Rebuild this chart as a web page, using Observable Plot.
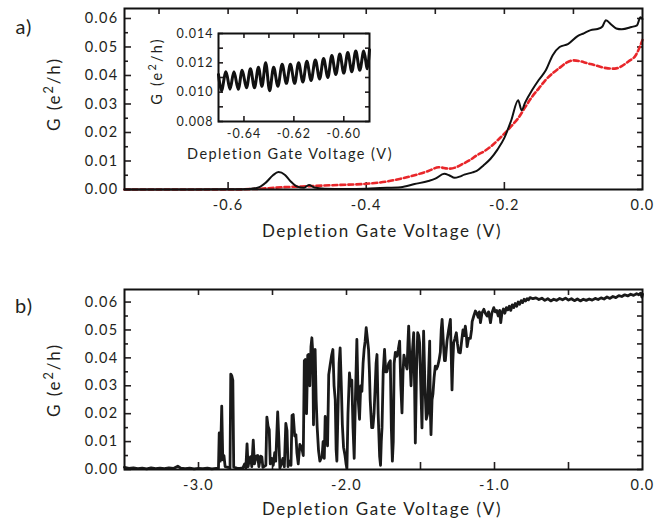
<!DOCTYPE html>
<html><head><meta charset="utf-8">
<script src="https://cdn.jsdelivr.net/npm/d3@7"></script>
<script src="https://cdn.jsdelivr.net/npm/@observablehq/plot@0.6"></script>
<style>
body{margin:0;background:#fff;}
#c{position:relative;width:667px;height:524px;font-family:Lato,"Open Sans",sans-serif;color:#231f20;overflow:hidden;}
#c > svg, #c > .lbl{position:absolute;}
.lbl{white-space:nowrap;transform:translate(-50%,-50%);line-height:1;}
.rot{transform:translate(-50%,-50%) rotate(-90deg);}
sup{font-size:0.75em;vertical-align:0.55em;line-height:0;}
</style></head><body><div id="c"></div>
<script>
// ---------- Panel a: main curves ----------
const aBlackV = [-0.75,-0.70,-0.65,-0.60,-0.57,-0.555,-0.545,-0.535,-0.527,-0.518,-0.51,-0.50,-0.49,-0.483,-0.475,-0.46,-0.43,-0.40,-0.38,-0.35,-0.33,-0.31,-0.30,-0.287,-0.28,-0.272,-0.265,-0.258,-0.246,-0.24,-0.23,-0.22,-0.21,-0.20,-0.19,-0.18,-0.175,-0.17,-0.16,-0.15,-0.14,-0.13,-0.12,-0.108,-0.094,-0.085,-0.075,-0.065,-0.058,-0.053,-0.045,-0.038,-0.03,-0.016,-0.008,-0.003,0.0];
const aBlackG = [0.0000,0.0000,0.0000,0.0001,0.0002,0.0008,0.0025,0.0050,0.0061,0.0052,0.0030,0.0010,0.0006,0.0016,0.0007,0.0003,0.0002,0.0003,0.0005,0.0008,0.0019,0.0030,0.0038,0.0055,0.0050,0.0041,0.0045,0.0052,0.0060,0.0065,0.0085,0.0108,0.0140,0.0181,0.0243,0.0313,0.0278,0.0305,0.0348,0.0385,0.0418,0.0471,0.0500,0.0510,0.0538,0.0548,0.0559,0.0563,0.0572,0.0594,0.0578,0.0565,0.0562,0.0570,0.0576,0.0604,0.0598];
const aRedV = [-0.75,-0.65,-0.60,-0.56,-0.52,-0.48,-0.44,-0.40,-0.37,-0.35,-0.33,-0.31,-0.295,-0.28,-0.27,-0.26,-0.25,-0.24,-0.23,-0.22,-0.21,-0.20,-0.19,-0.18,-0.17,-0.16,-0.15,-0.14,-0.13,-0.12,-0.11,-0.10,-0.09,-0.08,-0.07,-0.06,-0.05,-0.04,-0.03,-0.02,-0.01,0.0];
const aRedG = [0.0000,0.0000,0.0000,0.0002,0.0008,0.0012,0.0016,0.0020,0.0028,0.0038,0.0050,0.0065,0.0078,0.0073,0.0078,0.0090,0.0103,0.0120,0.0133,0.0150,0.0172,0.0196,0.0222,0.0250,0.0288,0.0325,0.0355,0.0385,0.0408,0.0427,0.0445,0.0453,0.0450,0.0443,0.0437,0.0430,0.0425,0.0424,0.0433,0.0450,0.0470,0.0525];
const aXLabels = [-0.6,-0.4,-0.2,0.0];
const aXTop = [-0.7,-0.6,-0.5,-0.4,-0.3,-0.2,-0.1];
const aXBottom = [-0.6,-0.4,-0.2];
const gLabels = [0,0.01,0.02,0.03,0.04,0.05,0.06];
const gMinor = [0.005,0.015,0.025,0.035,0.045,0.055];

// ---------- Inset ----------
const insV = [-0.6502,-0.6490,-0.6472,-0.6456,-0.6440,-0.6423,-0.6407,-0.6390,-0.6374,-0.6358,-0.6342,-0.6328,-0.6313,-0.6297,-0.6281,-0.6264,-0.6247,-0.6230,-0.6214,-0.6197,-0.6181,-0.6164,-0.6148,-0.6131,-0.6114,-0.6097,-0.6081,-0.6064,-0.6048,-0.6032,-0.6016,-0.6000,-0.5984,-0.5968,-0.5952,-0.5936,-0.5920,-0.5906,-0.5897];
const insG = [0.0112,0.0101,0.0114,0.0102,0.0114,0.0102,0.0115,0.0103,0.0116,0.0103,0.0117,0.0104,0.0120,0.0101,0.0117,0.0104,0.0119,0.0106,0.0119,0.0106,0.0120,0.0107,0.0121,0.0108,0.0122,0.0109,0.0123,0.0110,0.0125,0.0112,0.0126,0.0113,0.0127,0.0114,0.0128,0.0115,0.0128,0.0116,0.0129];
const insXLabels = [-0.64,-0.62,-0.60];
const insXTop = [-0.64,-0.63,-0.62,-0.61,-0.60];
const insYLabels = [0.008,0.010,0.012,0.014];
const insYMinor = [0.009,0.011,0.013];

// ---------- Panel b ----------
const bV = [-3.500,-3.470,-3.440,-3.410,-3.380,-3.350,-3.320,-3.290,-3.260,-3.230,-3.200,-3.170,-3.140,-3.120,-3.090,-3.060,-3.030,-3.000,-2.970,-2.940,-2.910,-2.880,-2.865,-2.860,-2.852,-2.843,-2.836,-2.828,-2.820,-2.800,-2.787,-2.782,-2.775,-2.768,-2.762,-2.740,-2.720,-2.700,-2.688,-2.680,-2.672,-2.665,-2.655,-2.648,-2.640,-2.630,-2.622,-2.610,-2.600,-2.592,-2.580,-2.572,-2.565,-2.545,-2.538,-2.530,-2.522,-2.515,-2.505,-2.495,-2.485,-2.478,-2.465,-2.458,-2.450,-2.440,-2.430,-2.420,-2.410,-2.402,-2.395,-2.385,-2.375,-2.368,-2.360,-2.350,-2.342,-2.335,-2.326,-2.315,-2.303,-2.292,-2.285,-2.278,-2.270,-2.262,-2.256,-2.248,-2.240,-2.234,-2.228,-2.223,-2.217,-2.212,-2.205,-2.198,-2.189,-2.180,-2.172,-2.165,-2.158,-2.150,-2.144,-2.136,-2.128,-2.120,-2.110,-2.100,-2.092,-2.084,-2.076,-2.070,-2.065,-2.058,-2.050,-2.043,-2.035,-2.028,-2.020,-2.010,-2.003,-1.997,-1.990,-1.980,-1.972,-1.964,-1.956,-1.948,-1.940,-1.930,-1.921,-1.912,-1.904,-1.896,-1.888,-1.881,-1.874,-1.867,-1.859,-1.851,-1.845,-1.840,-1.830,-1.822,-1.814,-1.806,-1.800,-1.794,-1.786,-1.776,-1.770,-1.765,-1.760,-1.752,-1.743,-1.735,-1.727,-1.715,-1.704,-1.697,-1.690,-1.684,-1.678,-1.670,-1.659,-1.650,-1.641,-1.633,-1.625,-1.618,-1.612,-1.600,-1.591,-1.585,-1.580,-1.572,-1.564,-1.555,-1.546,-1.540,-1.535,-1.527,-1.519,-1.512,-1.506,-1.498,-1.490,-1.484,-1.479,-1.470,-1.461,-1.452,-1.445,-1.438,-1.433,-1.429,-1.422,-1.416,-1.408,-1.400,-1.392,-1.384,-1.375,-1.366,-1.360,-1.354,-1.345,-1.338,-1.332,-1.321,-1.310,-1.298,-1.292,-1.287,-1.282,-1.276,-1.267,-1.258,-1.250,-1.242,-1.231,-1.222,-1.213,-1.205,-1.197,-1.190,-1.185,-1.175,-1.163,-1.155,-1.151,-1.140,-1.129,-1.120,-1.110,-1.102,-1.095,-1.085,-1.072,-1.062,-1.050,-1.040,-1.027,-1.018,-1.005,-0.995,-0.985,-0.975,-0.965,-0.958,-0.950,-0.940,-0.930,-0.920,-0.910,-0.900,-0.890,-0.880,-0.870,-0.860,-0.850,-0.840,-0.830,-0.820,-0.810,-0.800,-0.790,-0.780,-0.770,-0.760,-0.740,-0.720,-0.700,-0.680,-0.660,-0.640,-0.620,-0.600,-0.580,-0.560,-0.540,-0.520,-0.500,-0.480,-0.460,-0.440,-0.420,-0.400,-0.380,-0.360,-0.340,-0.320,-0.300,-0.280,-0.260,-0.240,-0.220,-0.200,-0.180,-0.160,-0.140,-0.120,-0.100,-0.080,-0.060,-0.040,-0.025,-0.012,-0.004,0.000];
const bG = [0.0008,0.0004,0.0006,0.0003,0.0005,0.0002,0.0006,0.0003,0.0005,0.0003,0.0006,0.0004,0.0012,0.0005,0.0003,0.0005,0.0002,0.0004,0.0003,0.0005,0.0002,0.0004,0.0005,0.0131,0.0030,0.0227,0.0035,0.0050,0.0010,0.0008,0.0006,0.0342,0.0336,0.0320,0.0008,0.0005,0.0004,0.0006,0.0020,0.0005,0.0092,0.0010,0.0040,0.0046,0.0010,0.0105,0.0020,0.0048,0.0050,0.0010,0.0048,0.0045,0.0008,0.0015,0.0188,0.0155,0.0143,0.0020,0.0040,0.0015,0.0060,0.0030,0.0206,0.0120,0.0005,0.0020,0.0040,0.0010,0.0165,0.0140,0.0010,0.0030,0.0015,0.0194,0.0197,0.0120,0.0125,0.0060,0.0020,0.0090,0.0080,0.0050,0.0390,0.0394,0.0200,0.0410,0.0412,0.0300,0.0440,0.0472,0.0420,0.0160,0.0425,0.0430,0.0250,0.0150,0.0068,0.0030,0.0040,0.0045,0.0100,0.0040,0.0190,0.0120,0.0085,0.0340,0.0376,0.0410,0.0430,0.0300,0.0250,0.0070,0.0030,0.0200,0.0380,0.0436,0.0300,0.0160,0.0080,0.0050,0.0020,0.0005,0.0200,0.0346,0.0300,0.0320,0.0150,0.0040,0.0250,0.0466,0.0250,0.0180,0.0300,0.0280,0.0380,0.0430,0.0460,0.0508,0.0470,0.0430,0.0350,0.0250,0.0150,0.0150,0.0200,0.0300,0.0380,0.0412,0.0200,0.0046,0.0015,0.0100,0.0150,0.0350,0.0430,0.0350,0.0350,0.0380,0.0390,0.0150,0.0030,0.0100,0.0380,0.0420,0.0406,0.0430,0.0460,0.0300,0.0203,0.0350,0.0410,0.0380,0.0360,0.0450,0.0514,0.0400,0.0300,0.0420,0.0490,0.0300,0.0095,0.0350,0.0490,0.0480,0.0454,0.0300,0.0149,0.0350,0.0496,0.0300,0.0180,0.0200,0.0350,0.0460,0.0200,0.0125,0.0250,0.0270,0.0330,0.0370,0.0360,0.0370,0.0390,0.0420,0.0500,0.0538,0.0450,0.0390,0.0390,0.0460,0.0500,0.0538,0.0400,0.0285,0.0380,0.0454,0.0470,0.0490,0.0450,0.0420,0.0418,0.0460,0.0500,0.0480,0.0514,0.0480,0.0440,0.0470,0.0470,0.0500,0.0530,0.0550,0.0568,0.0560,0.0545,0.0565,0.0526,0.0560,0.0574,0.0560,0.0550,0.0565,0.0526,0.0560,0.0580,0.0565,0.0570,0.0550,0.0570,0.0526,0.0560,0.0575,0.0560,0.0580,0.0572,0.0585,0.0570,0.0590,0.0580,0.0595,0.0585,0.0600,0.0592,0.0605,0.0598,0.0610,0.0604,0.0612,0.0608,0.0616,0.0612,0.0615,0.0609,0.0614,0.0606,0.0612,0.0604,0.0610,0.0606,0.0613,0.0608,0.0614,0.0607,0.0612,0.0605,0.0611,0.0604,0.0610,0.0606,0.0611,0.0607,0.0613,0.0609,0.0615,0.0611,0.0618,0.0613,0.0620,0.0616,0.0623,0.0620,0.0626,0.0622,0.0628,0.0624,0.0630,0.0626,0.0632,0.0618,0.0628];
const bXLabels = [-3.0,-2.0,-1.0,0.0];
const bXTicks = [-3.0,-2.5,-2.0,-1.5,-1.0,-0.5];

const labels = {
  a: "a)", b: "b)",
  xTitle: "Depletion Gate Voltage (V)",
  yTitle: 'G (e<sup>2</sup>/h)'
};

const zip = (xs, ys) => xs.map((x, i) => ({x, y: ys[i]}));

function panel(o) {
  const fw = o.width - o.mL - o.mR, fh = o.height - o.mT - o.mB;
  const ink = "#231f20";
  return Plot.plot({
    width: o.width, height: o.height,
    marginLeft: o.mL, marginRight: o.mR, marginTop: o.mT, marginBottom: o.mB,
    x: {domain: o.xDom}, y: {domain: o.yDom},
    style: {fontFamily: "Lato, sans-serif", fontSize: o.fs + "px", letterSpacing: o.ls + "px", color: ink, background: "transparent", overflow: "visible"},
    marks: [
      Plot.ruleX(o.xTop, {x: d => d, insetBottom: fh - o.tT, stroke: ink, strokeWidth: 1.6}),
      Plot.ruleX(o.xBot, {x: d => d, insetTop: fh - o.tB, stroke: ink, strokeWidth: 1.6}),
      Plot.ruleY(o.yMaj, {y: d => d, insetRight: fw - o.tL, stroke: ink, strokeWidth: 1.6}),
      Plot.ruleY(o.yMin, {y: d => d, insetRight: fw - o.tLm, stroke: ink, strokeWidth: 1.6}),
      Plot.ruleY(o.yMaj.concat(o.yMin), {y: d => d, insetLeft: fw - o.tR, stroke: ink, strokeWidth: 1.6}),
      Plot.axisX(o.xLab, {tickSize: 0, tickPadding: o.padX, tickFormat: o.fx, label: null}),
      Plot.axisY(o.yMaj, {tickSize: 0, tickPadding: o.padY, tickFormat: o.fy, label: null}),
      ...o.marks,
      Plot.frame({stroke: "#111", strokeWidth: 2})
    ]
  });
}

const c = document.getElementById("c");
function place(el, left, top) { el.style.left = left + "px"; el.style.top = top + "px"; c.appendChild(el); }
function label(html, x, y, size, ls, rot) {
  const d = document.createElement("div");
  d.className = "lbl" + (rot ? " rot" : "");
  d.style.fontSize = size + "px";
  d.style.letterSpacing = ls + "px";
  d.innerHTML = html;
  place(d, x, y);
}

// Panel a
place(panel({
  width: 667, height: 250, mL: 124, mR: 25, mT: 8, mB: 61,
  xDom: [-0.75, 0], yDom: [0, 0.0635], fs: 14.5, ls: 1.3,
  xTop: aXTop, xBot: aXBottom, xLab: aXLabels, yMaj: gLabels, yMin: gMinor,
  tT: 6, tB: 7, tL: 7, tLm: 4, tR: 5, padX: 10, padY: 6,
  fx: d => d.toFixed(1), fy: d => d.toFixed(2),
  marks: [
    Plot.line(zip(aRedV, aRedG), {x: "x", y: "y", stroke: "#e8262a", strokeWidth: 2.6, strokeDasharray: "5,3", curve: "monotone-x"}),
    Plot.line(zip(aBlackV, aBlackG), {x: "x", y: "y", stroke: "#111", strokeWidth: 2, curve: "monotone-x"})
  ]
}), 0, 0);

// Inset
place(panel({
  width: 230, height: 140, mL: 68, mR: 11, mT: 8, mB: 44,
  xDom: [-0.6502, -0.5897], yDom: [0.008, 0.014], fs: 12.5, ls: 1,
  xTop: insXTop, xBot: insXLabels, xLab: insXLabels, yMaj: insYLabels, yMin: insYMinor,
  tT: 5, tB: 5, tL: 5, tLm: 5, tR: 4, padX: 8, padY: 5,
  fx: d => d.toFixed(2), fy: d => d.toFixed(3),
  marks: [
    Plot.line(zip(insV, insG), {x: "x", y: "y", stroke: "#111", strokeWidth: 3, curve: "catmull-rom"})
  ]
}), 150, 25);

// Panel b
place(panel({
  width: 667, height: 244, mL: 124, mR: 25, mT: 9, mB: 55,
  xDom: [-3.5, 0], yDom: [0, 0.0645], fs: 14.5, ls: 1.3,
  xTop: bXTicks, xBot: bXTicks, xLab: bXLabels, yMaj: gLabels, yMin: gMinor,
  tT: 6, tB: 7, tL: 7, tLm: 4, tR: 5, padX: 10, padY: 6,
  fx: d => d.toFixed(1), fy: d => d.toFixed(2),
  marks: [
    Plot.line(zip(bV, bG), {x: "x", y: "y", stroke: "#1a1a1a", strokeWidth: 2.8, strokeLinejoin: "round"})
  ]
}), 0, 280);

label(labels.a, 24, 26, 20, 1);
label(labels.b, 24, 305, 20, 1);
label(labels.xTitle, 382, 230, 17, 1.6);
label(labels.xTitle, 290, 154, 14.5, 1.4);
label(labels.xTitle, 382, 508, 17, 1.6);
label(labels.yTitle, 53, 94, 17, 1.9, true);
label(labels.yTitle, 157, 71, 14.5, 2.2, true);
label(labels.yTitle, 53, 380, 17, 1.9, true);
</script></body></html>
